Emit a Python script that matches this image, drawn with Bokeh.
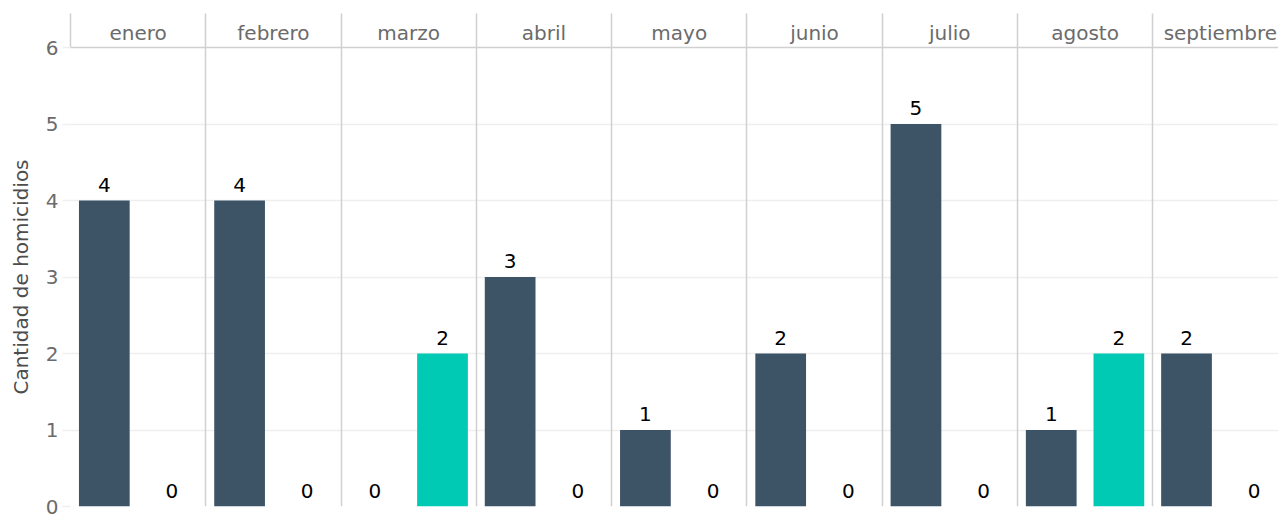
from bokeh.plotting import figure
from bokeh.models import ColumnDataSource, LinearAxis, FixedTicker, Range1d, Grid
from bokeh.core.properties import value
from bokeh.embed import file_html
from bokeh.resources import INLINE

meses = ["enero", "febrero", "marzo", "abril", "mayo", "junio", "julio", "agosto", "septiembre"]
serie_a = [4, 4, 0, 3, 1, 2, 5, 1, 2]
serie_b = [0, 0, 2, 0, 0, 0, 0, 2, 0]
colores = ["#3D5467", "#00C9B4"]
y_ticks = [0, 1, 2, 3, 4, 5, 6]

FONT = "DejaVu Sans"
FS = "20px"

xs, ys, cols, labels = [], [], [], []
for i, (a, b) in enumerate(zip(serie_a, serie_b)):
    for j, v in enumerate((a, b)):
        xs.append(i + 0.25 + 0.5 * j)
        ys.append(v)
        cols.append(colores[j])
        labels.append(str(v))
src = ColumnDataSource(dict(x=xs, y=ys, c=cols, t=labels))

p = figure(width=1278, height=518, output_backend="svg", toolbar_location=None,
           x_range=Range1d(0, 8.93), y_range=Range1d(0, 6),
           x_axis_location=None, min_border_left=70, min_border_right=0,
           min_border_top=47, min_border_bottom=12)
p.outline_line_color = None
p.background_fill_color = "white"
p.border_fill_color = "white"

p.xgrid.visible = False
p.ygrid.ticker = FixedTicker(ticks=y_ticks)
p.ygrid.grid_line_color = "#efefef"
p.ygrid.grid_line_width = 1.5

# panel separators
sep = Grid(dimension=0, ticker=FixedTicker(ticks=list(range(len(meses) + 1))),
           grid_line_color="#d0d0d0", grid_line_width=1.5)
p.add_layout(sep)

p.vbar(x="x", top="y", width=0.375, fill_color="c", line_color=None, source=src)
p.text(x="x", y="y", text="t", source=src, text_align="center", text_baseline="bottom",
       y_offset=-9, text_font_size=FS, text_color="black", text_font=value(FONT))

# y axis
ya = p.yaxis[0]
ya.ticker = FixedTicker(ticks=y_ticks)
ya.axis_line_color = None
ya.major_tick_out = 8
ya.major_tick_in = 0
ya.major_tick_line_color = "#efefef"
ya.major_tick_line_width = 1.5
ya.minor_tick_line_color = None
ya.major_label_text_font = FONT
ya.major_label_text_font_size = FS
ya.major_label_text_color = "#6b6b6b"
ya.major_label_standoff = 4
ya.axis_label = "Cantidad de homicidios"
ya.axis_label_text_font = FONT
ya.axis_label_text_font_size = FS
ya.axis_label_text_font_style = "normal"
ya.axis_label_text_color = "#4d4d4d"
ya.axis_label_standoff = 10

# facet strip as top axis
centers = [i + 0.5 for i in range(len(meses))]
top = LinearAxis(ticker=FixedTicker(ticks=centers, minor_ticks=list(range(len(meses) + 1))),
                 major_label_overrides={c: m for c, m in zip(centers, meses)})
top.axis_line_color = "#d0d0d0"
top.axis_line_width = 1.5
top.major_tick_line_color = None
top.minor_tick_out = 34
top.minor_tick_in = 0
top.minor_tick_line_color = "#d0d0d0"
top.minor_tick_line_width = 1.5
top.major_label_text_font = FONT
top.major_label_text_font_size = FS
top.major_label_text_color = "#6b6b6b"
top.major_label_standoff = -31
p.add_layout(top, "above")

open("out.html", "w").write(file_html(p, INLINE))
